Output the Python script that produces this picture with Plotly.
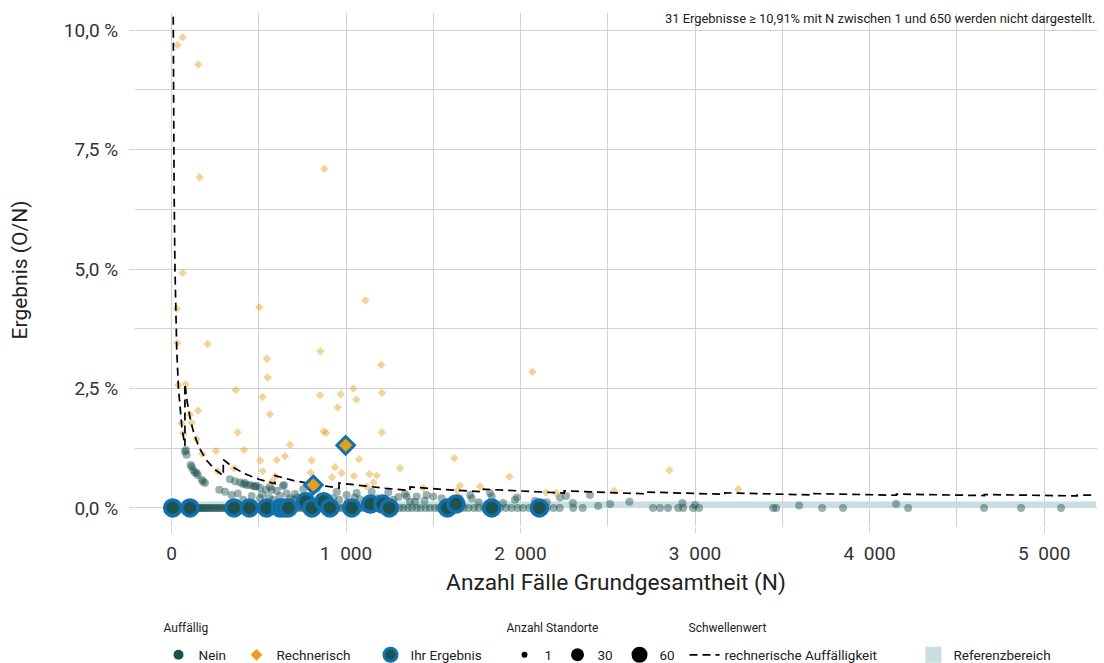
import plotly.graph_objects as go

# ---------------- data ----------------
# "Nein" (not conspicuous) results: N and result in %
nein_row_n = [2, 9, 14, 22, 29, 35, 43, 50, 58, 67, 73, 82, 89, 98, 105, 113, 122, 129, 139, 146,
              156, 163, 174, 181, 191, 198, 210, 217, 229, 236, 248, 257, 268, 277, 290, 298, 311,
              320, 334, 343, 356, 366, 380, 389, 403, 414, 428, 439, 453, 465, 480, 490, 506, 518,
              533, 545, 562, 574, 591, 603, 620, 633, 651, 664, 682, 696, 714, 729, 747, 762, 781,
              796, 816, 831, 851, 867, 888, 904, 925, 942, 963, 981, 1003, 1020, 1043, 1061, 1084,
              1103, 1127, 1146, 1170, 1190, 1215, 1235, 1260, 1282, 1307, 1329, 1355, 1378, 1405,
              1428, 1456, 1480, 1508, 1533, 1562, 1588, 1617, 1644, 1674, 1701, 1733, 1760, 1793,
              1821, 1854, 1884, 1918, 1948, 1983, 2014, 2050, 2082, 2119, 2152, 2190, 2225, 2302,
              2356, 2759, 2799, 2845, 2903, 2932, 2989, 3023, 3447, 3464, 3728, 3848, 4221, 4656,
              4868, 5097]
nein_row_v = [0.0] * len(nein_row_n)

nein_up_n = [77, 83, 87, 110, 116, 125, 135, 144, 150, 173, 182, 192, 274, 307, 335, 364, 393, 411,
             421, 431, 450, 469, 478, 488, 507, 542, 564, 574, 603, 638, 645, 708, 755, 832, 947,
             1004, 1061, 1147, 1242, 1348, 1405, 345, 411, 507, 583, 698, 927, 1080, 1271, 1367,
             1338, 1395, 1462, 1500, 1548, 1711, 1720, 1825, 1835, 1968, 2083, 2226, 2261, 2398,
             2445, 2513, 2624, 2927, 3000, 3596, 4152, 720, 760, 790, 850, 890, 960, 1010, 1050,
             1120, 1180, 1220, 1300, 1450, 1600, 1650, 1760, 1900, 1980, 2150, 2300, 380, 460, 520,
             560, 620, 660, 680]
nein_up_v = [1.18, 1.21, 1.11, 0.90, 0.86, 0.79, 0.74, 0.73, 0.69, 0.59, 0.55, 0.52, 0.38, 0.34, 0.60,
             0.56, 0.53, 0.50, 0.52, 0.48, 0.48, 0.46, 0.45, 0.46, 0.42, 0.38, 0.44, 0.38, 0.36, 0.46,
             0.48, 0.29, 0.39, 0.40, 0.34, 0.27, 0.31, 0.34, 0.32, 0.24, 0.24, 0.27, 0.17, 0.20, 0.17,
             0.17, 0.20, 0.18, 0.17, 0.13, 0.29, 0.13, 0.27, 0.24, 0.20, 0.27, 0.20, 0.31, 0.24, 0.17,
             0.15, 0.22, 0.25, 0.27, 0.04, 0.08, 0.13, 0.10, 0.06, 0.05, 0.08, 0.22, 0.15, 0.25, 0.20,
             0.13, 0.17, 0.12, 0.22, 0.15, 0.20, 0.12, 0.23, 0.15, 0.12, 0.20, 0.12, 0.10, 0.22, 0.12,
             0.10, 0.30, 0.25, 0.28, 0.22, 0.25, 0.30, 0.20]

# "Rechnerisch" (computationally conspicuous) results
rech_n = [35, 64, 154, 161, 876, 64, 30, 503, 1111, 33, 207, 853, 547, 551, 1202, 2068, 39, 81, 368,
          522, 851, 970, 1042, 1059, 1206, 952, 152, 564, 116, 106, 58, 67, 379, 144, 415, 255, 679,
          176, 509, 603, 650, 803, 522, 359, 595, 265, 872, 886, 1205, 937, 975, 1046, 1075, 1134,
          1176, 1309, 1157, 1118, 574, 797, 1443, 1621, 1653, 1768, 1936, 1638, 2146, 2203, 2537,
          2853, 3248, 920]
rech_v = [9.69, 9.85, 9.28, 6.92, 7.10, 4.92, 4.17, 4.20, 4.34, 3.45, 3.43, 3.28, 3.12, 2.73, 2.99,
          2.85, 2.57, 2.59, 2.47, 2.32, 2.36, 2.38, 2.50, 2.27, 2.41, 2.10, 2.04, 1.96, 1.78, 1.95,
          1.77, 1.56, 1.58, 1.44, 1.21, 1.19, 1.32, 1.13, 0.99, 1.00, 1.08, 0.99, 0.77, 0.83, 0.66,
          0.77, 1.60, 1.57, 1.58, 0.85, 0.73, 0.67, 1.02, 0.71, 0.68, 0.83, 0.53, 0.45, 0.55, 0.74,
          0.41, 1.04, 0.47, 0.45, 0.65, 0.36, 0.32, 0.31, 0.36, 0.79, 0.39, 0.64]

# "Ihr Ergebnis" (own results)
ihr_nein_n = [7, 106, 358, 446, 545, 622, 645, 669, 768, 805, 872, 908, 1033, 1140, 1210, 1248, 1581,
              1630, 1835, 2108]
ihr_nein_v = [0, 0, 0, 0, 0, 0, 0, 0, 0.13, 0, 0.13, 0, 0, 0.08, 0.08, 0, 0, 0.08, 0, 0]
ihr_rech_n = [998, 813]
ihr_rech_v = [1.31, 0.48]

# Threshold line ("rechnerische Auffälligkeit")
thr_n = [9, 12, 15, 20, 25, 30, 40, 50, 60, 77,
         77, 90, 110, 130, 160, 200, 250, 297,
         297, 350, 420, 500, 593,
         593, 700, 820, 960,
         960, 1100, 1230, 1367,
         1367, 1570, 1787,
         1787, 2020, 2250,
         2250, 2713,
         2713, 3171,
         3171, 3657,
         3657, 4154,
         4154, 4657,
         4657, 5189,
         5189, 5298]
thr_v = [11.1, 8.33, 6.67, 5.0, 4.0, 3.33, 2.5, 2.0, 1.67, 1.30,
         2.60, 2.22, 1.82, 1.54, 1.25, 1.00, 0.80, 0.673,
         1.01, 0.857, 0.714, 0.60, 0.506,
         0.675, 0.571, 0.488, 0.417,
         0.521, 0.455, 0.407, 0.366,
         0.439, 0.382, 0.336,
         0.392, 0.347, 0.311,
         0.356, 0.295,
         0.332, 0.284,
         0.315, 0.273,
         0.301, 0.265,
         0.289, 0.258,
         0.279, 0.251,
         0.270, 0.265]

# Reference range (Referenzbereich)
ref_n = [0, 5298]
ref_lo = 0.0
ref_hi = 0.135

# Axis ticks
x_ticks = [0, 1000, 2000, 3000, 4000, 5000]
x_ticklabels = ["0", "1\u2002000", "2\u2002000", "3\u2002000", "4\u2002000", "5\u2002000"]
y_ticks = [0, 2.5, 5, 7.5, 10]
y_ticklabels = ["0,0 %", "2,5 %", "5,0 %", "7,5 %", "10,0 %"]

# size legend
size_labels = ["1", "30", "60"]

# ---------------- styling ----------------
TEAL = "#1d524f"
ORANGE = "#e5a01a"
BLUE = "#1170ae"
REF = "#c8dedf"
GRID = "#d2d2d2"
FONT = "Roboto"

ML, MR, MT, MB = 135, 7, 13, 136
W, H = 1104, 663
PW, PH = W - ML - MR, H - MT - MB

fig = go.Figure()

# reference band
fig.add_trace(go.Scatter(
    x=[ref_n[0], ref_n[1], ref_n[1], ref_n[0], ref_n[0]],
    y=[ref_lo, ref_lo, ref_hi, ref_hi, ref_lo],
    fill="toself", fillcolor=REF, line=dict(width=0), mode="lines",
    showlegend=False, hoverinfo="skip"))

# Nein points
fig.add_trace(go.Scatter(
    x=nein_row_n + nein_up_n, y=nein_row_v + nein_up_v, mode="markers",
    marker=dict(color=TEAL, size=8, opacity=0.45, line=dict(width=0)),
    showlegend=False))

# Rechnerisch points
fig.add_trace(go.Scatter(
    x=rech_n, y=rech_v, mode="markers",
    marker=dict(color=ORANGE, size=6.5, symbol="diamond", opacity=0.45, line=dict(width=0)),
    showlegend=False))

# threshold line
fig.add_trace(go.Scatter(
    x=thr_n, y=thr_v, mode="lines",
    line=dict(color="black", width=1.7, dash="8px,5px"),
    showlegend=False, hoverinfo="skip"))

# own results
fig.add_trace(go.Scatter(
    x=ihr_nein_n, y=ihr_nein_v, mode="markers",
    marker=dict(color=TEAL, size=16, line=dict(color=BLUE, width=3.5)),
    showlegend=False))
fig.add_trace(go.Scatter(
    x=ihr_rech_n, y=ihr_rech_v, mode="markers",
    marker=dict(color=ORANGE, size=13.5, symbol="diamond", line=dict(color=BLUE, width=3)),
    showlegend=False))

# ---------------- legend (one small plotly legend per entry) ----------------
legend_layout = {}
TEXT_OFF = 41.5  # distance from legend left edge to its text


def entry(key, name, text_x, y_px, size, **kw):
    fig.add_trace(go.Scatter(x=[None], y=[None], hoverinfo="skip", name=name,
                             legend=key, **kw))
    legend_layout[key] = dict(
        x=(text_x - TEXT_OFF - ML) / PW, y=(MT + PH - y_px) / PH,
        xanchor="left", yanchor="middle", orientation="h",
        bgcolor="rgba(0,0,0,0)", itemclick=False, itemdoubleclick=False,
        font=dict(family=FONT, size=size, color="#222"))


TITLE_Y, ITEM_Y = 627, 655
hidden = dict(mode="markers", marker=dict(color="rgba(0,0,0,0)", size=1))
entry("legend", "Auffällig", 165, TITLE_Y, 12, **hidden)
entry("legend2", "Anzahl Standorte", 508, TITLE_Y, 12, **hidden)
entry("legend3", "Schwellenwert", 690, TITLE_Y, 12, **hidden)
entry("legend4", "Nein", 200, ITEM_Y, 13.5, mode="markers", marker=dict(color=TEAL, size=10))
entry("legend5", "Rechnerisch", 278, ITEM_Y, 13.5, mode="markers",
      marker=dict(color=ORANGE, size=9, symbol="diamond"))
entry("legend6", "Ihr Ergebnis", 412, ITEM_Y, 13.5, mode="markers",
      marker=dict(color=TEAL, size=13, line=dict(color=BLUE, width=3)))
for key, lab, tx, s in zip(["legend7", "legend8", "legend9"], size_labels, [546, 599, 661], [6, 13, 16]):
    entry(key, lab, tx, ITEM_Y, 13.5, mode="markers", marker=dict(color="black", size=s))
entry("legend10", "rechnerische Auffälligkeit", 726, ITEM_Y, 13.5, mode="lines",
      line=dict(color="black", width=1.7, dash="8px,5px"))
entry("legend11", "Referenzbereich", 955, ITEM_Y, 13.5, mode="markers",
      marker=dict(color=REF, size=20, symbol="square"))

fig.update_layout(
    width=W, height=H,
    margin=dict(l=ML, r=MR, t=MT, b=MB, autoexpand=False),
    plot_bgcolor="white", paper_bgcolor="white",
    font=dict(family=FONT, color="#222"),
    xaxis=dict(range=[-209, 5303], tickvals=x_ticks, ticktext=x_ticklabels,
               showgrid=True, gridcolor=GRID, gridwidth=1, zeroline=False, automargin=False,
               ticks="outside", ticklen=5, tickcolor=GRID, ticklabelstandoff=4,
               tickfont=dict(family=FONT, size=19, color="#333"),
               minor=dict(tickmode="linear", tick0=0, dtick=500, showgrid=True,
                          gridcolor=GRID, gridwidth=1, ticks=""),
               title=dict(text="Anzahl Fälle Grundgesamtheit (N)",
                          font=dict(family=FONT, size=22.7, color="#222"), standoff=10)),
    yaxis=dict(range=[-0.40, 10.36], tickvals=y_ticks, ticktext=y_ticklabels,
               showgrid=True, gridcolor=GRID, gridwidth=1, zeroline=False, automargin=False,
               ticks="outside", ticklen=5, tickcolor=GRID, ticklabelstandoff=7,
               tickfont=dict(family=FONT, size=19, color="#333"),
               minor=dict(tickmode="linear", tick0=0, dtick=1.25, showgrid=True,
                          gridcolor=GRID, gridwidth=1, ticks=""),
               title=dict(text="Ergebnis (O/N)",
                          font=dict(family=FONT, size=21, color="#222"), standoff=30)),
    annotations=[dict(text="31 Ergebnisse ≥ 10,91% mit N zwischen 1 und 650 werden nicht dargestellt.",
                      xref="paper", yref="paper", x=1.0, y=(MT + PH - 19) / PH,
                      xanchor="right", yanchor="middle",
                      showarrow=False, font=dict(family=FONT, size=12.9, color="#222"))],
    **legend_layout,
)

fig.write_html("out.html", config={"displayModeBar": False},
               post_script="document.body.style.margin='0px';")
